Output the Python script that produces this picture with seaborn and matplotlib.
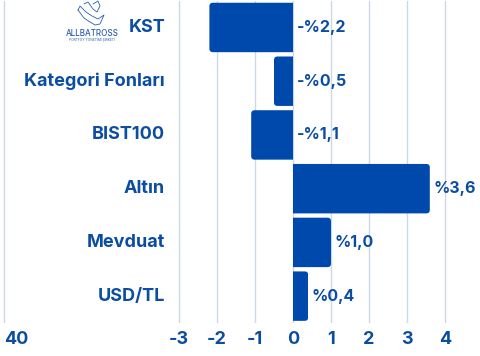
import matplotlib
matplotlib.use("Agg")
import matplotlib.pyplot as plt
from matplotlib.patches import FancyBboxPatch, Rectangle
from matplotlib.transforms import blended_transform_factory
import seaborn as sns
import pandas as pd

# Returns by instrument (%)
categories = ["KST", "Kategori Fonları", "BIST100", "Altın", "Mevduat", "USD/TL"]
returns = [-2.2, -0.5, -1.1, 3.6, 1.0, 0.4]

# x-axis ticks and their labels
tick_values = [-7.6, -3, -2, -1, 0, 1, 2, 3, 4]
tick_labels = ["40", "-3", "-2", "-1", "0", "1", "2", "3", "4"]

BLUE = "#0049AC"
TEXT = "#0B4DA2"
GRID = "#CCD7E8"
FONT = "Inter"

sns.set_theme(style="white")
plt.rcParams["font.family"] = [FONT, "DejaVu Sans"]

df = pd.DataFrame({"kategori": categories, "getiri": returns})

fig = plt.figure(figsize=(4.8, 3.56), dpi=100)
ax = fig.add_axes([0.0, 0.0927, 1.0, 0.9056])

sns.barplot(data=df, x="getiri", y="kategori", orient="h", color=BLUE,
            width=0.92, saturation=1, ax=ax, zorder=2)

ax.set_xlim(-293 / 38, (480 - 293) / 38)
ax.set_xticks(tick_values)
ax.set_xticklabels(tick_labels)
ax.grid(axis="x", color=GRID, linewidth=1, zorder=0)
ax.grid(axis="y", visible=False)
ax.set_axisbelow(True)
for s in ax.spines.values():
    s.set_visible(False)
ax.tick_params(axis="x", length=0, pad=6, labelsize=13, labelcolor=TEXT)
for lab in ax.get_xticklabels():
    lab.set_fontweight("bold")
ax.get_xticklabels()[0].set_horizontalalignment("left")
ax.set_yticks([])
ax.set_xlabel("")
ax.set_ylabel("")

# bars: rounded at the outer end, square at the zero baseline
fig.canvas.draw()
px_x = ax.transData.transform((1, 0))[0] - ax.transData.transform((0, 0))[0]
px_y = abs(ax.transData.transform((0, 1))[1] - ax.transData.transform((0, 0))[1])
r = 3.5 / px_x
for p in list(ax.patches):
    x0, w = p.get_x(), p.get_width()
    left, right = min(x0, x0 + w), max(x0, x0 + w)
    bottom, hh = min(p.get_y(), p.get_y() + p.get_height()), abs(p.get_height())
    p.set_visible(False)
    if left < 0:
        box_left, box_right = left, right + 2 * r
    else:
        box_left, box_right = left - 2 * r, right
    rounded = FancyBboxPatch((box_left, bottom), box_right - box_left, hh,
                             boxstyle=f"round,pad=0,rounding_size={r}",
                             mutation_aspect=px_x / px_y,
                             facecolor=BLUE, edgecolor="none", zorder=2)
    ax.add_patch(rounded)
    clip = Rectangle((left, bottom - 1), right - left, hh + 2,
                     transform=ax.transData)
    rounded.set_clip_path(clip)

# value labels
for i, v in enumerate(returns):
    txt = ("-" if v < 0 else "") + "%" + f"{abs(v):.1f}".replace(".", ",")
    ax.annotate(txt, xy=(max(v, 0), i), xytext=(2.5, 0), textcoords="offset points",
                ha="left", va="center", fontsize=11.5, fontweight="bold",
                color=TEXT, zorder=3)

# category names
tr = blended_transform_factory(ax.transAxes, ax.transData)
for i, c in enumerate(categories):
    ax.text(165 / 480, i, c, transform=tr, ha="right", va="center",
            fontsize=13, fontweight="bold", color=TEXT, zorder=3)

# logo beside the fund name
logo_color = "#2B5FAE"
fig.text(92 / 480, 1 - 33 / 356, "ALLBATROSS", ha="center", va="center",
         fontsize=5.8, color=logo_color, fontweight="medium")
fig.text(92 / 480, 1 - 40 / 356, "PORTFÖY YÖNETİMİ ŞİRKETİ", ha="center",
         va="center", fontsize=2.4, color=logo_color)
bx = [78, 84, 90, 95, 100, 104, 98, 92, 86, 80, 78]
by = [10, 18, 22, 25, 24, 15, 19, 16, 12, 6, 10]
fig.add_artist(plt.Line2D([x / 480 for x in bx], [1 - y / 356 for y in by],
                          color=logo_color, linewidth=0.6))
wx = [84, 88, 93, 97, 100, 98, 93]
wy = [4, 2, 9, 12, 6, 1, 4]
fig.add_artist(plt.Line2D([x / 480 for x in wx], [1 - y / 356 for y in wy],
                          color=logo_color, linewidth=0.6))

fig.savefig("out.png", dpi=100)
